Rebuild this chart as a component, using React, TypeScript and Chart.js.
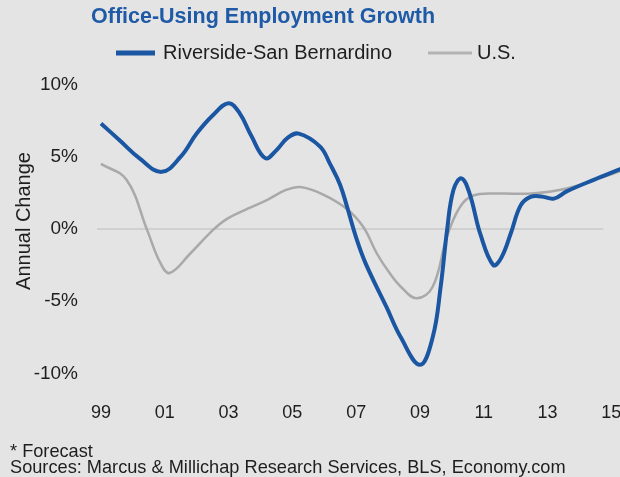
import React, { useEffect, useRef } from "react";
import { Chart, registerables } from "chart.js";

Chart.register(...registerables);

const TITLE = "Office-Using Employment Growth";
const SERIES_NAMES = ["Riverside-San Bernardino", "U.S."];
const Y_AXIS_TITLE = "Annual Change";
const FOOTNOTES = ["* Forecast", "Sources: Marcus & Millichap Research Services, BLS, Economy.com"];

const X_TICK_YEARS = [1999, 2001, 2003, 2005, 2007, 2009, 2011, 2013, 2015];
const Y_TICK_STEP = 5;

const RIVERSIDE_YEARS = [
  1999.0, 1999.6, 2000.2, 2000.9, 2001.5, 2002.0, 2002.5, 2003.0, 2003.35, 2003.7,
  2004.15, 2004.5, 2004.85, 2005.2, 2005.87, 2006.18, 2006.49, 2006.72, 2007.0, 2007.3,
  2007.95, 2008.4, 2009.0, 2009.4, 2009.65, 2009.85, 2010.05, 2010.3, 2010.55, 2010.9,
  2011.3, 2011.55, 2011.85, 2012.15, 2012.45, 2012.8, 2013.2, 2013.6, 2014.45, 2015.3,
];
const RIVERSIDE_VALUES = [
  7.3, 6.1, 4.9, 3.95, 5.0, 6.6, 7.85, 8.7, 8.0, 6.5,
  4.9, 5.45, 6.3, 6.6, 5.7, 4.5, 3.1, 1.5, -0.6, -2.4,
  -5.4, -7.5, -9.4, -7.5, -4.0, -0.1, 2.7, 3.5, 2.5, -0.4,
  -2.5, -2.0, -0.3, 1.6, 2.2, 2.25, 2.1, 2.6, 3.4, 4.15,
];

const US_YEARS = [
  1999.0, 1999.8, 2000.45, 2000.85, 2001.15, 2001.8, 2002.5, 2002.95, 2003.6, 2004.2,
  2004.8, 2005.25, 2005.95, 2006.7, 2007.22, 2007.65, 2008.0, 2008.4, 2008.9, 2009.4,
  2009.85, 2010.25, 2010.65, 2011.5, 2012.5, 2013.6, 2015.3,
];
const US_VALUES = [
  4.5, 3.4, -0.1, -2.3, -3.05, -1.7, -0.1, 0.7, 1.4, 2.0,
  2.7, 2.9, 2.4, 1.4, 0.15, -1.7, -2.9, -4.0, -4.8, -4.0,
  -0.5, 1.5, 2.3, 2.45, 2.45, 2.8, 4.0,
];

const ZERO_LINE_END_YEAR = 2014.75;

const BLUE = "#1b56a2";
const GRAY = "#a9a9a9";
const TEXT = "#1e1e1e";
const FONT = "'Liberation Sans', Arial, Helvetica, sans-serif";

const decorPlugin = {
  id: "decor",
  beforeDatasetsDraw(chart: any) {
    const { ctx, chartArea, scales } = chart;
    const y0 = scales.y.getPixelForValue(0);
    const xEnd = scales.x.getPixelForValue(ZERO_LINE_END_YEAR);
    ctx.save();
    ctx.strokeStyle = "#cacaca";
    ctx.lineWidth = 1.5;
    ctx.beginPath();
    ctx.moveTo(chartArea.left, y0);
    ctx.lineTo(xEnd, y0);
    ctx.stroke();
    ctx.restore();
  },
  afterDraw(chart: any) {
    const { ctx } = chart;
    ctx.save();
    // title
    ctx.fillStyle = "#1f5aa6";
    ctx.font = `bold 21.5px ${FONT}`;
    ctx.textBaseline = "alphabetic";
    ctx.textAlign = "left";
    ctx.fillText(TITLE, 91, 23);

    // legend
    ctx.lineCap = "butt";
    ctx.strokeStyle = BLUE;
    ctx.lineWidth = 5;
    ctx.beginPath();
    ctx.moveTo(116, 53);
    ctx.lineTo(155, 53);
    ctx.stroke();
    ctx.strokeStyle = "#b3b3b3";
    ctx.lineWidth = 3;
    ctx.beginPath();
    ctx.moveTo(428, 53);
    ctx.lineTo(472, 53);
    ctx.stroke();
    ctx.fillStyle = TEXT;
    ctx.font = `20px ${FONT}`;
    ctx.textBaseline = "middle";
    ctx.fillText(SERIES_NAMES[0], 163, 53);
    ctx.fillText(SERIES_NAMES[1], 477, 53);

    // y axis title
    ctx.save();
    ctx.translate(24, 221);
    ctx.rotate(-Math.PI / 2);
    ctx.textAlign = "center";
    ctx.textBaseline = "middle";
    ctx.font = `20px ${FONT}`;
    ctx.fillText(Y_AXIS_TITLE, 0, 0);
    ctx.restore();

    // footnotes
    ctx.font = `18.2px ${FONT}`;
    ctx.textAlign = "left";
    ctx.textBaseline = "middle";
    ctx.fillText(FOOTNOTES[0], 10, 452);
    ctx.fillText(FOOTNOTES[1], 10, 468);
    ctx.restore();
  },
};

export default function App() {
  const canvasRef = useRef<HTMLCanvasElement | null>(null);

  useEffect(() => {
    const canvas = canvasRef.current;
    if (!canvas) return;
    const chart = new Chart(canvas, {
      type: "line",
      data: {
        datasets: [
          {
            label: SERIES_NAMES[0],
            data: RIVERSIDE_YEARS.map((x, i) => ({ x, y: RIVERSIDE_VALUES[i] })),
            borderColor: BLUE,
            borderWidth: 4,
            pointRadius: 0,
            tension: 0.4,
            fill: false,
          },
          {
            label: SERIES_NAMES[1],
            data: US_YEARS.map((x, i) => ({ x, y: US_VALUES[i] })),
            borderColor: GRAY,
            borderWidth: 2.5,
            pointRadius: 0,
            tension: 0.4,
            fill: false,
          },
        ],
      },
      options: {
        responsive: false,
        animation: false,
        devicePixelRatio: 1,
        layout: { padding: { left: 0, top: 70, right: 20, bottom: 49 } },
        plugins: {
          legend: { display: false },
          title: { display: false },
          tooltip: { enabled: false },
        },
        scales: {
          x: {
            type: "linear",
            min: 1998.875,
            max: 2015.9,
            grid: { display: false, drawTicks: false },
            border: { display: false },
            ticks: {
              padding: 4,
              color: TEXT,
              font: { family: FONT, size: 18 },
              maxRotation: 0,
              callback: (v: any) => String(Number(v) % 100).padStart(2, "0"),
            },
            afterBuildTicks: (scale: any) => {
              scale.ticks = X_TICK_YEARS.map((v) => ({ value: v }));
            },
            afterFit: (scale: any) => {
              scale.height = 30;
            },
          },
          y: {
            min: -11.7,
            max: 11,
            grid: { display: false, drawTicks: false },
            border: { display: false },
            ticks: {
              stepSize: Y_TICK_STEP,
              includeBounds: false,
              padding: 19,
              color: TEXT,
              font: { family: FONT, size: 19 },
              callback: (v: any) => `${v}%`,
            },
            afterFit: (scale: any) => {
              scale.width = 97;
            },
          },
        },
      },
      plugins: [decorPlugin],
    } as any);
    return () => chart.destroy();
  }, []);

  return (
    <div
      style={{
        position: "fixed",
        left: 0,
        top: 0,
        width: 620,
        height: 477,
        overflow: "hidden",
        background: "#e4e4e4",
      }}
    >
      <canvas ref={canvasRef} width={660} height={477} style={{ display: "block" }} />
    </div>
  );
}
